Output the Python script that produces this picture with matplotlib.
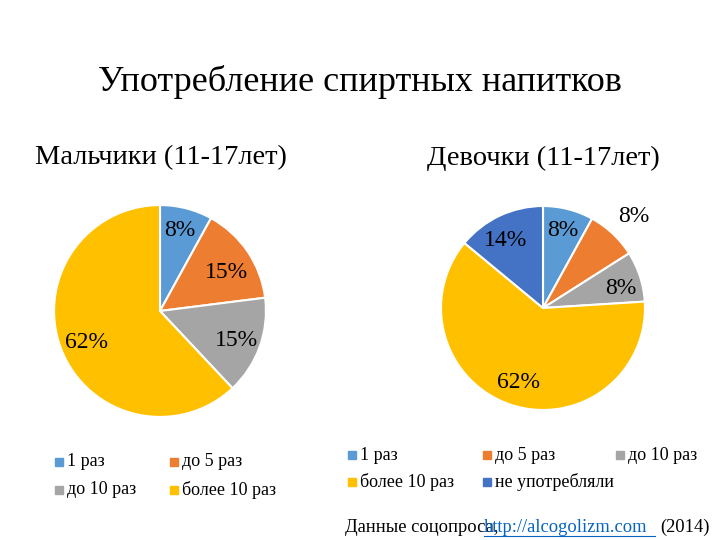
import matplotlib
matplotlib.use("Agg")
import matplotlib.pyplot as plt
from matplotlib.patches import Rectangle

plt.rcParams['font.family'] = ['Liberation Serif', 'DejaVu Serif']

boys_labels = ["1 раз", "до 5 раз", "до 10 раз", "более 10 раз"]
boys_values = [8, 15, 15, 62]
girls_labels = ["1 раз", "до 5 раз", "до 10 раз", "более 10 раз", "не употребляли"]
girls_values = [8, 8, 8, 62, 14]
colors = ["#5B9BD5", "#ED7D31", "#A5A5A5", "#FFC000", "#4472C4"]

W, H = 720, 540
fig = plt.figure(figsize=(7.2, 5.4), dpi=100)

def px(x, y):
    return x / W, 1 - y / H

fig.text(*px(360, 82), "Употребление спиртных напитков", ha="center", va="center", fontsize=26)
fig.text(*px(161, 158), "Мальчики (11-17лет)", ha="center", va="center", fontsize=20.5)
fig.text(*px(543, 158), "Девочки (11-17лет)", ha="center", va="center", fontsize=20.5)

def pie(cx, cy, r, vals):
    ax = fig.add_axes([(cx - r) / W, 1 - (cy + r) / H, 2 * r / W, 2 * r / H])
    ax.pie(vals, colors=colors[:len(vals)], startangle=90, counterclock=False,
           wedgeprops=dict(edgecolor="white", linewidth=1.5))
    ax.set_xlim(-1.01, 1.01)
    ax.set_ylim(-1.01, 1.01)
    ax.set_aspect("equal")
    return ax

pie(160, 311, 107, boys_values)
pie(543, 308, 103, girls_values)

boys_pos = [(180, 230), (226, 272), (236, 340), (86, 342)]
for v, (x, y) in zip(boys_values, boys_pos):
    fig.text(*px(x, y), f"{v}%", ha="center", va="center", fontsize=17)
girls_pos = [(563, 230), (634, 217), (621, 288), (518, 383), (506, 240)]
for v, (x, y) in zip(girls_values, girls_pos):
    fig.text(*px(x, y), f"{v}%", ha="center", va="center", fontsize=17)

def legend_item(x, y, c, t):
    fx, fy = px(x, y)
    fig.patches.append(Rectangle((fx, fy - 4 / H), 8 / W, 8 / H, color=c, transform=fig.transFigure))
    fig.text(fx + 12 / W, fy, t, ha="left", va="center", fontsize=13)

bpos = [(55, 462), (170, 462), (55, 490), (170, 490)]
for (x, y), c, t in zip(bpos, colors, boys_labels):
    legend_item(x, y, c, t)
gpos = [(348, 455), (483, 455), (616, 455), (348, 482), (483, 482)]
for (x, y), c, t in zip(gpos, colors, girls_labels):
    legend_item(x, y, c, t)

fig.text(*px(345, 527), "Данные соцопроса,", ha="left", va="center", fontsize=13.3)
fig.text(*px(484, 527), "http://alcogolizm.com", ha="left", va="center", fontsize=13.3, color="#0563C1")
fig.text(*px(710, 527), "(2014)", ha="right", va="center", fontsize=13.3)
fx, fy = px(484, 536)
fig.add_artist(plt.Line2D([fx, 655 / W], [fy, fy], color="#0563C1", lw=0.8, transform=fig.transFigure))

fig.savefig("out.png", dpi=100)
